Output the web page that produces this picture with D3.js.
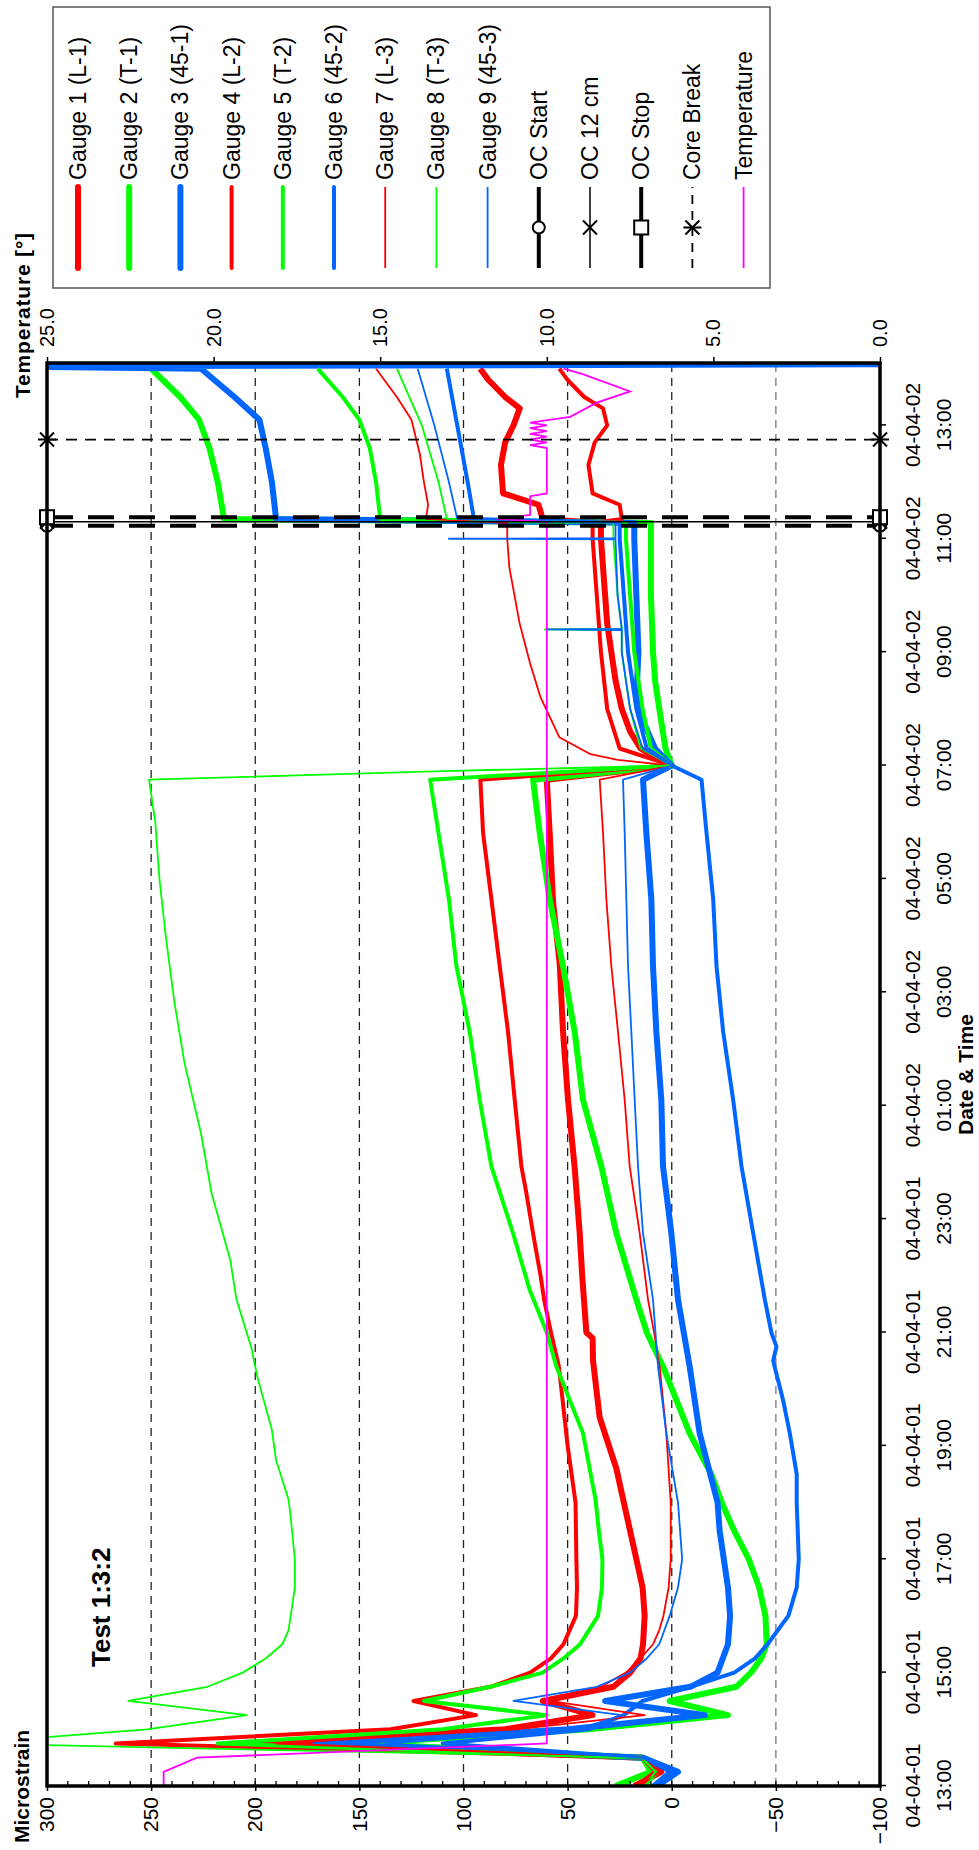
<!DOCTYPE html>
<html><head><meta charset="utf-8">
<script src="https://cdn.jsdelivr.net/npm/d3@7"></script>
<style>body{margin:0;background:#fff}svg{display:block}text{font-family:"Liberation Sans",Arial,sans-serif}</style>
</head><body><svg id="c" width="979" height="1850"></svg>
<script>
// ---------------- data (hours after 04-04-01 13:00, microstrain) ----------------
const startTime = new Date(2004, 3, 1, 13, 0);
const spanHours = 25.1;
const strainTicks = [300, 250, 200, 150, 100, 50, 0, -50, -100];
const strainGrid = [250, 200, 150, 100, 50, 0, -50];
const tempTicks = [0, 5, 10, 15, 20, 25];
const timeTickHours = [0, 2, 4, 6, 8, 10, 12, 14, 16, 18, 20, 22, 24];

const gauge1 = [[0,18],[0.25,5],[0.5,14],[0.75,200],[1,80],[1.25,38],[1.5,62],[1.75,28],[2,20],[2.25,15],[2.5,13.8],[3,13],[3.5,14],[4,17],[4.5,20],[5,23],[5.6,26.6],[6.5,34.6],[7.5,37.8],[7.9,38],[8,41],[9,43],[9.75,44.2],[10.9,46.6],[12.1,49.8],[13.3,52.2],[14.5,53.8],[15.6,57],[16.8,58.6],[17.75,60],[18,0],[18.15,8],[18.3,15],[18.6,20],[19,24],[19.5,27],[20,29],[20.5,31],[21,32],[21.5,33],[22,34],[22.28,34],[22.35,62],[22.6,64],[22.8,81],[23.3,82],[23.7,80],[24,76],[24.3,73],[24.5,80],[24.8,88],[25,92]];
const gauge2 = [[0,27],[0.25,10],[0.5,14],[0.75,150],[1,40],[1.25,-27],[1.5,1],[1.75,-31],[2,-38],[2.25,-43],[2.5,-45.6],[3,-45],[3.5,-42],[4,-37],[4.5,-30],[5,-24],[5.5,-19],[6.22,-8.6],[7.4,4.2],[8,12],[8.58,17],[9.75,26.6],[10.93,33.8],[12.1,42.6],[13.3,46.6],[14.46,52.2],[15.64,58.6],[16.81,63.4],[17.75,66.6],[18,0],[18.3,3],[19,6],[19.5,8],[20,9],[21,10],[22,10],[22.28,10],[22.35,215],[23,218],[23.6,222],[24.1,227],[24.5,236],[25,250]];
const gauge3 = [[0,7],[0.25,-3],[0.5,14],[0.75,171],[1,50],[1.25,-16],[1.5,32],[1.75,-9],[2,-22],[2.5,-27],[3,-28],[3.5,-27],[4,-25],[4.5,-23],[5,-22],[6.22,-13.4],[7.4,-8.6],[8.58,-3],[9.75,0.2],[10.93,4.2],[12.1,5],[13.3,7.4],[14.46,9],[15.64,9.8],[16.81,12.2],[17.75,13.8],[18,0],[18.3,8],[18.8,14],[19.2,17],[20,16],[21,17],[22,18],[22.28,18],[22.35,190],[23,192],[23.6,195],[24.1,198],[24.5,210],[25,226],[25.04,330],[25.08,-120]];
const gauge4 = [[0,17],[0.25,8],[0.5,14],[0.75,267],[1,135],[1.25,94],[1.5,124],[1.75,87],[2,68],[2.25,58],[2.5,52],[3,46],[3.5,45.5],[4,45.8],[4.5,46],[5,46.2],[6,50],[7.4,54.2],[8,58],[8.58,61.3],[9,63],[9.75,66.6],[10.5,70],[10.93,72.2],[12.1,75.4],[13.3,78.6],[14.46,82.6],[15.64,86.6],[16.81,90.6],[17.75,91.9],[18,0],[18.3,25],[19,31],[20,34],[21,36],[22,38],[22.28,38],[22.35,24],[22.6,25],[22.8,38],[23.3,40],[23.7,37],[24,31],[24.3,33],[24.5,42],[24.8,50],[25,54]];
const gauge5 = [[0,13],[0.25,7],[0.5,14],[0.75,218],[1,110],[1.25,60],[1.5,119],[1.75,87],[2,62],[2.25,52],[2.5,44],[3,35.4],[3.5,33.5],[4,33.3],[4.5,35],[5.05,36.6],[6.22,42.6],[7.4,55.4],[8,60],[8.75,68.2],[9.75,76.2],[10.93,86.6],[12.1,92.2],[13.3,97],[14.46,103.4],[15.64,107],[16.81,112],[17.75,116],[18,0],[18.3,10],[19,14],[20,18],[21,20],[22,22],[22.28,22],[22.35,140],[23,142],[23.6,145],[24.1,150],[24.5,158],[25,170]];
const gauge6 = [[0,8],[0.25,0],[0.5,14],[0.75,110],[1,40],[1.25,23],[1.5,14],[1.75,-9],[2,-30],[2.25,-40],[2.5,-46],[3,-56],[3.5,-60],[4,-61],[4.5,-60.5],[5,-60],[5.5,-60],[6.22,-56.7],[6.8,-53.5],[7.5,-48.7],[7.75,-50.3],[7.99,-47.9],[8.58,-44.7],[9.75,-39.1],[10.93,-33.5],[12.1,-29.5],[13.3,-24.7],[14.46,-21.5],[15.64,-19.9],[16.81,-16.7],[17.75,-14.3],[18,0],[18.3,12],[19,17],[20,21],[21,23],[22,25],[22.28,25],[22.35,95],[23,98],[24,103],[25,108]];
const gauge7 = [[0,15],[0.25,6],[0.5,14],[0.75,190],[1,75],[1.25,13],[1.5,58.6],[1.75,34],[2,22],[2.25,15],[2.5,9],[2.75,6],[3,4],[3.5,1.5],[4,0.5],[5,0.5],[6.22,2.6],[7.4,5.8],[8,8.5],[8.58,11.4],[9.75,15.4],[10.93,20.2],[12.1,22.6],[13.3,25.8],[14.46,29],[15.64,31.4],[16.81,33],[17.75,34.6],[18,0],[18.1,26],[18.2,39],[18.5,54],[19.2,63],[19.8,68],[20.5,73],[21.5,78],[22,79],[22.28,79],[22.35,118],[22.6,117],[23,119],[23.5,121],[24.1,125],[24.5,132],[25,142]];
const gauge8 = [[0,12],[0.25,8],[0.5,14],[0.75,340],[1,252],[1.25,204],[1.5,261],[1.75,223],[2,206],[2.25,195],[2.5,187],[2.75,184],[3.5,181],[4,181],[4.75,183],[5.05,184],[5.75,190],[6.28,192],[7.22,199],[7.75,202],[8.58,209],[9.28,212],[10.46,221],[11.5,226],[12.76,234],[13.87,239],[15,243],[16,246],[17,248],[17.75,251],[17.9,110],[18,0],[18.3,15],[19,20],[20,24],[20.39,24],[20.4,61],[20.41,24],[21,26],[22,28],[22.28,28],[22.35,108],[23,112],[24,120],[25,132]];
const gauge9 = [[0,10],[0.25,2],[0.5,14],[0.75,138],[1,45],[1.25,24],[1.5,76],[1.75,36],[2,20],[2.25,12],[2.5,6],[3,1],[3.5,-3],[4,-5],[4.5,-4],[5,-3],[6.22,2.6],[7.4,6.6],[8.58,9],[9.75,13.8],[10.93,16.2],[12.1,17.8],[13.3,19.4],[14.46,21],[15.64,21.8],[16.81,22.6],[17.75,23.4],[18,0],[18.3,14],[19,20],[20,24],[20.39,24],[20.4,60],[20.41,24],[21,26],[21.99,27],[22,107],[22.01,27],[22.28,27],[22.35,103],[23,107],[24,114],[25,122]];
const temperature = [[0,21.5],[0.25,21.5],[0.5,20.5],[0.75,10],[5,10],[10,10],[15,10],[20,10],[22.3,10],[22.35,11.5],[22.42,10.5],[22.75,10.5],[22.8,10],[23.6,10],[23.65,10.5],[23.7,10],[23.75,10.5],[23.8,10],[23.85,10.5],[23.9,10],[23.95,10.5],[24,10],[24.05,10.5],[24.15,9.3],[24.4,8.5],[24.6,7.5],[24.9,8.9],[25,9.5]];

const eventHours = [22.23, 22.30, 22.38, 23.75];
const eventNames = ["OC Start", "OC 12 cm", "OC Stop", "Core Break"];

const gaugeNames = ["Gauge 1 (L-1)","Gauge 2 (T-1)","Gauge 3 (45-1)","Gauge 4 (L-2)","Gauge 5 (T-2)","Gauge 6 (45-2)","Gauge 7 (L-3)","Gauge 8 (T-3)","Gauge 9 (45-3)"];
const gaugeData = [gauge1, gauge2, gauge3, gauge4, gauge5, gauge6, gauge7, gauge8, gauge9];

// ---------------- styles ----------------
const RED = "#ff0000", GREEN = "#00ff00", BLUE = "#0066ff", MAGENTA = "#ff00ff";
const gaugeColors = [RED, GREEN, BLUE, RED, GREEN, BLUE, RED, GREEN, BLUE];
const gaugeWidths = [6, 6, 6, 4, 4, 4, 1.8, 1.8, 1.8];

// ---------------- layout (drawn landscape, rotated -90deg) ----------------
const PW = 1850;
const L = 64, R = 1487, T = 47, B = 880;
const svg = d3.select("#c");
const g = svg.append("g").attr("transform", `translate(0,${PW}) rotate(-90)`);

const toDate = h => new Date(startTime.getTime() + h * 3600e3);
const x = d3.scaleTime().domain([startTime, toDate(spanHours)]).range([L, R]);
const y = d3.scaleLinear().domain([-100, 300]).range([B, T]);
const yT = d3.scaleLinear().domain([0, 25]).range([B, T]);

g.append("defs").append("clipPath").attr("id", "clip")
  .append("rect").attr("x", L).attr("y", T).attr("width", R - L).attr("height", B - T);

// grid
g.append("g").selectAll("line").data(strainGrid).join("line")
  .attr("x1", L).attr("x2", R).attr("y1", d => y(d)).attr("y2", d => y(d))
  .attr("stroke", d => d === -50 ? "#777" : "#222").attr("stroke-width", 1.3)
  .attr("stroke-dasharray", "8,6");

// series
const line = d3.line().x(d => x(toDate(d[0]))).y(d => y(d[1]));
const lineT = d3.line().x(d => x(toDate(d[0]))).y(d => yT(d[1]));
const plot = g.append("g").attr("clip-path", "url(#clip)");
gaugeData.forEach((data, i) => {
  plot.append("path").datum(data).attr("d", line).attr("fill", "none")
    .attr("stroke", gaugeColors[i]).attr("stroke-width", gaugeWidths[i])
    .attr("stroke-linejoin", "round");
});
plot.append("path").datum(temperature).attr("d", lineT).attr("fill", "none")
  .attr("stroke", MAGENTA).attr("stroke-width", 1.8);

// event lines
function marker(sel, kind, cx, cy) {
  if (kind === 0) sel.append("circle").attr("cx", cx).attr("cy", cy).attr("r", 6).attr("fill", "#fff").attr("stroke", "#000").attr("stroke-width", 2);
  if (kind === 1 || kind === 3) {
    const s = 7;
    sel.append("path").attr("d", `M${cx-s},${cy-s}L${cx+s},${cy+s}M${cx-s},${cy+s}L${cx+s},${cy-s}` + (kind === 3 ? `M${cx},${cy-s-2}L${cx},${cy+s+2}` : ""))
      .attr("stroke", "#000").attr("stroke-width", 2).attr("fill", "none");
  }
  if (kind === 2) sel.append("rect").attr("x", cx - 7).attr("y", cy - 7).attr("width", 14).attr("height", 14).attr("fill", "#fff").attr("stroke", "#000").attr("stroke-width", 2);
}
const evStyles = [{w: 4, dash: "26,15"}, {w: 1.5, dash: null}, {w: 4, dash: "26,15"}, {w: 1.8, dash: "11,8"}];
const ev = g.append("g");
eventHours.forEach((h, i) => {
  const ex = x(toDate(h));
  ev.append("line").attr("x1", ex).attr("x2", ex).attr("y1", T).attr("y2", B)
    .attr("stroke", "#000").attr("stroke-width", evStyles[i].w)
    .attr("stroke-dasharray", evStyles[i].dash);
});
eventHours.forEach((h, i) => {
  const ex = x(toDate(h));
  marker(ev, i, ex, T); marker(ev, i, ex, B);
});

// frame
g.append("rect").attr("x", L).attr("y", T).attr("width", R - L).attr("height", B - T)
  .attr("fill", "none").attr("stroke", "#000").attr("stroke-width", 3.5);

// microstrain axis (left in landscape)
const ax1 = g.append("g").attr("transform", `translate(${L},0)`)
  .call(d3.axisLeft(y).tickValues(strainTicks).tickSize(5).tickFormat(d3.format("d")));
ax1.select(".domain").remove();
ax1.selectAll("text").attr("font-size", 21).attr("x", -11).attr("fill", "#000");
ax1.selectAll("line").attr("stroke-width", 1.5);
g.append("g").selectAll("line").data(d3.range(-100, 301, 10)).join("line")
  .attr("x1", L).attr("x2", L + 5).attr("y1", d => y(d)).attr("y2", d => y(d))
  .attr("stroke", "#000").attr("stroke-width", 1.3);

// temperature axis (right in landscape)
const ax2 = g.append("g").attr("transform", `translate(${R},0)`)
  .call(d3.axisRight(yT).tickValues(tempTicks).tickSize(6).tickFormat(d3.format(".1f")));
ax2.select(".domain").remove();
ax2.selectAll("text").attr("font-size", 20).attr("x", 16).attr("fill", "#000");
ax2.selectAll("line").attr("stroke-width", 1.5);

// time axis (bottom in landscape)
const fDate = d3.timeFormat("%y-%m-%d"), fTime = d3.timeFormat("%H:%M");
const ax3 = g.append("g").attr("transform", `translate(0,${B})`)
  .call(d3.axisBottom(x).tickValues(timeTickHours.map(toDate)).tickSize(6).tickFormat(""));
ax3.select(".domain").remove();
ax3.selectAll("line").attr("stroke-width", 1.5);
ax3.selectAll(".tick").each(function(d) {
  const t = d3.select(this);
  t.append("text").attr("y", 40).attr("text-anchor", "middle").attr("font-size", 21).attr("fill", "#000").text(fDate(d));
  t.append("text").attr("y", 71).attr("text-anchor", "middle").attr("font-size", 21).attr("fill", "#000").text(fTime(d));
});

// titles
g.append("text").attr("x", 7).attr("y", 29).attr("font-size", 21).attr("font-weight", "bold").text("Microstrain");
g.append("text").attr("x", 1452).attr("y", 30).attr("font-size", 21).attr("font-weight", "bold").attr("letter-spacing", 0.8).text("Temperature [°]");
g.append("text").attr("x", (L + R) / 2).attr("y", 973).attr("text-anchor", "middle").attr("font-size", 21).attr("font-weight", "bold").text("Date & Time");
g.append("text").attr("x", 183).attr("y", 110).attr("font-size", 26).attr("font-weight", "bold").text("Test 1:3:2");

// legend
const lg = g.append("g");
lg.append("rect").attr("x", 1562).attr("y", 53).attr("width", 281).attr("height", 717)
  .attr("fill", "#fff").attr("stroke", "#555").attr("stroke-width", 1.5);
const legendItems = gaugeNames.map((n, i) => ({name: n, color: gaugeColors[i], w: gaugeWidths[i], kind: -1}))
  .concat(eventNames.map((n, i) => ({name: n, color: "#000", w: evStyles[i].w, kind: i, dash: i === 3 ? "9,7" : null})))
  .concat([{name: "Temperature", color: MAGENTA, w: 1.8, kind: -1}]);
legendItems.forEach((it, i) => {
  const cy = 78 + i * 51.2;
  lg.append("line").attr("x1", 1582).attr("x2", 1663).attr("y1", cy).attr("y2", cy)
    .attr("stroke", it.color).attr("stroke-width", it.w).attr("stroke-linecap", it.kind < 0 && it.w > 3 ? "round" : "butt")
    .attr("stroke-dasharray", it.dash || null);
  if (it.kind >= 0) marker(lg, it.kind, 1622.5, cy);
  lg.append("text").attr("x", 1670).attr("y", cy).attr("dy", "0.35em").attr("font-size", 23).text(it.name);
});
</script></body></html>
